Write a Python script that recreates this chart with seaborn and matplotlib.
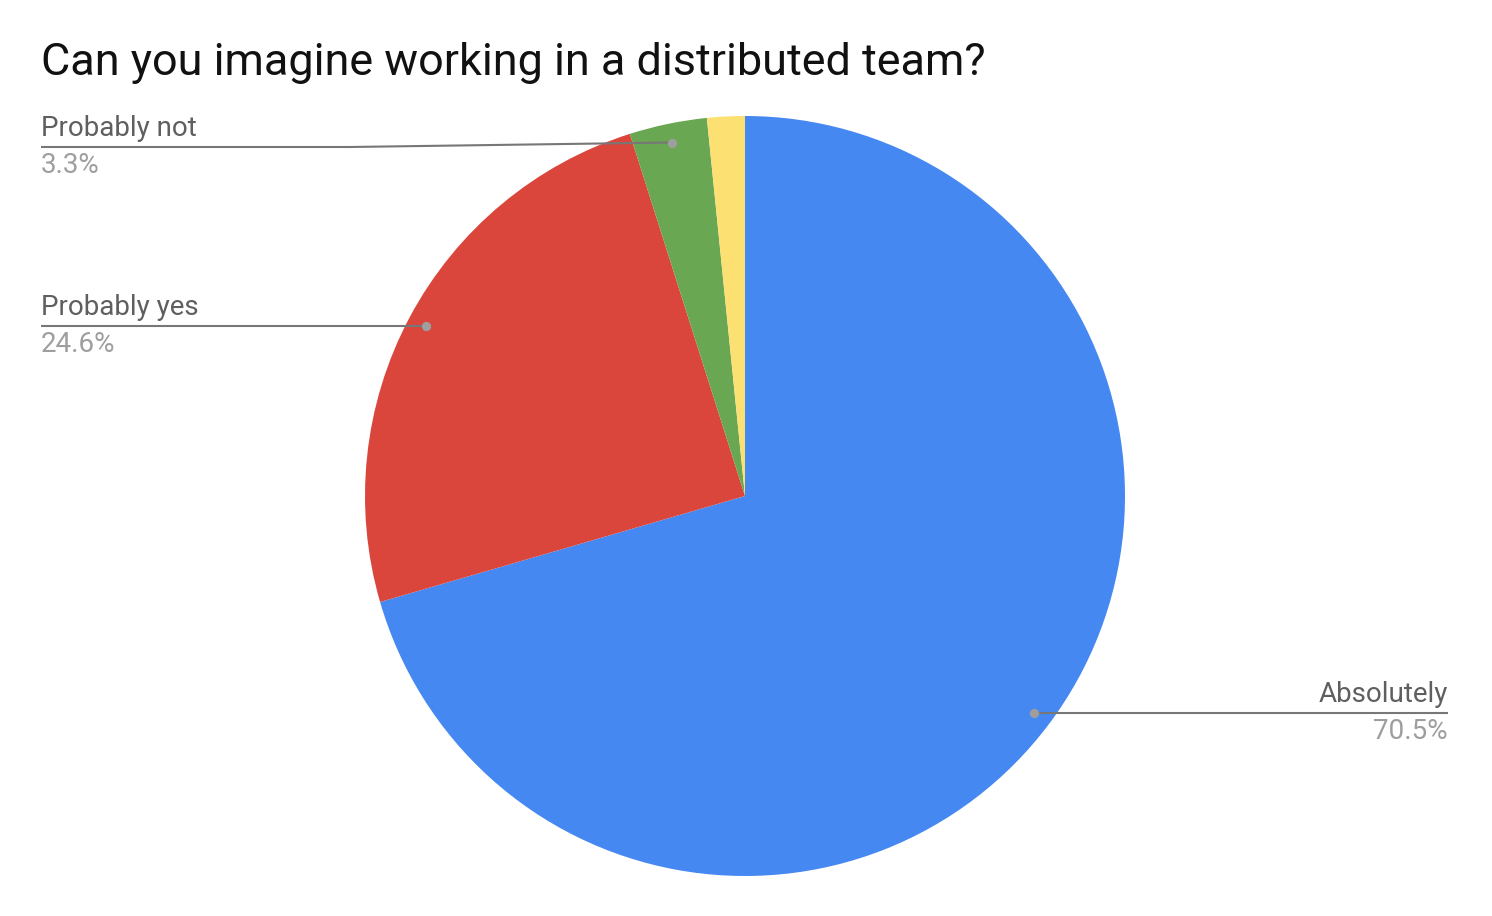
import numpy as np
import matplotlib
matplotlib.use("Agg")
import matplotlib.pyplot as plt
import seaborn as sns

# Survey answers (share of respondents, %)
answers = ["Absolutely", "Probably yes", "Probably not", "Other"]
shares = [70.5, 24.6, 3.3, 1.6]
pct_labels = ["70.5%", "24.6%", "3.3%", ""]
slice_colors = ["#4688F1", "#DA463C", "#6AA753", "#FDE072"]

sns.set_theme(style="white")
plt.rcParams["font.family"] = ["Roboto", "DejaVu Sans"]

W, H = 1492, 916
fig = plt.figure(figsize=(W / 100, H / 100), dpi=100)
ax = fig.add_axes([0, 0, 1, 1])

cx, cy, r = 745, H - 496, 380
wedges, _ = ax.pie(shares, colors=slice_colors, startangle=90, counterclock=False,
                   center=(cx, cy), radius=r, frame=True,
                   wedgeprops=dict(linewidth=0))
ax.set_xlim(0, W)
ax.set_ylim(0, H)
ax.set_aspect("equal")
ax.axis("off")

line_col = "#777777"
name_col = "#5f5f5f"
pct_col = "#9e9e9e"

# label layout: (side, text x, line y in px from top)
layout = {
    "Absolutely": ("right", 1448, 712),
    "Probably yes": ("left", 41, 326),
    "Probably not": ("left", 41, 147),
}

for w, name, pct in zip(wedges, answers, pct_labels):
    if name not in layout:
        continue
    mid = np.deg2rad((w.theta1 + w.theta2) / 2)
    px = cx + 0.95 * r * np.cos(mid)
    py = cy + 0.95 * r * np.sin(mid)
    side, tx, ly = layout[name]
    ly = H - ly
    if abs(py - ly) > 1:
        bend_x = 350
        xs, ys = [px, bend_x, tx], [py, ly, ly]
    else:
        xs, ys = [px, tx], [py, py]
        ly = py
    ax.plot(xs, ys, color=line_col, lw=1.5, solid_capstyle="butt", zorder=3)
    ax.scatter([px], [py], s=45, color="#9e9e9e", zorder=4, linewidths=0)
    ha = "right" if side == "right" else "left"
    ax.text(tx, ly + 5, name, ha=ha, va="bottom", fontsize=20, color=name_col)
    ax.text(tx, ly - 5, pct, ha=ha, va="top", fontsize=20, color=pct_col)

ax.text(41, H - 63, "Can you imagine working in a distributed team?", ha="left",
        va="center", fontsize=32.4, color="#111111")

fig.savefig("out.png", dpi=100, facecolor="white")
